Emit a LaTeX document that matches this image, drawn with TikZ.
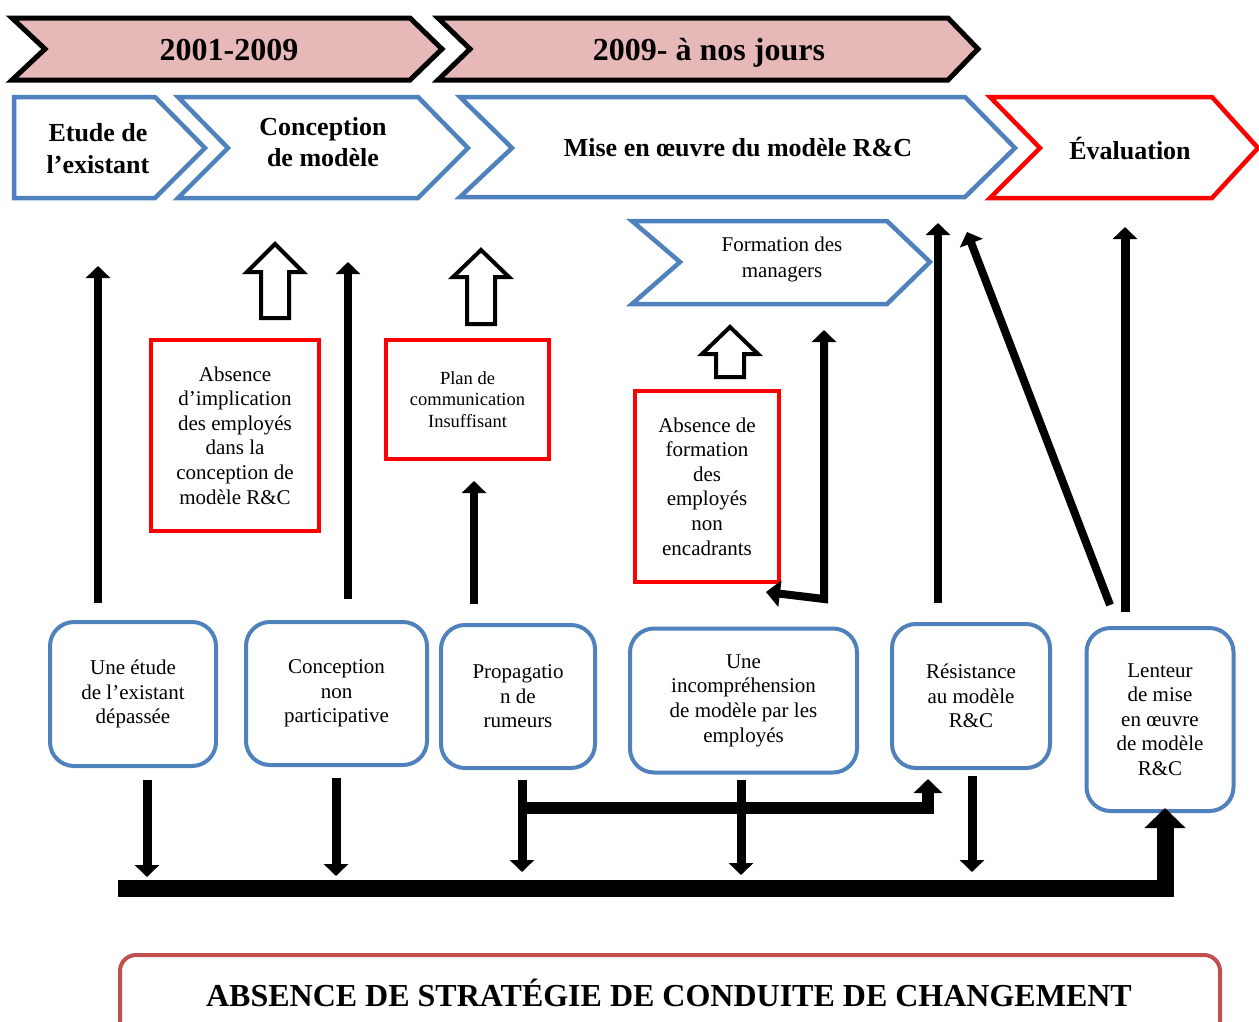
\documentclass[tikz,border=0pt]{standalone}
\usepackage{fontspec}
\setmainfont{Liberation Serif}
\usetikzlibrary{arrows.meta}

\definecolor{periodfill}{HTML}{E6B9B8}
\definecolor{phaseblue}{HTML}{4F81BD}
\definecolor{alertred}{HTML}{FF0000}
\definecolor{bannerred}{HTML}{C0504D}

\newcommand\headfont{\fontsize{32}{36}\selectfont\bfseries}
\newcommand\phasefont{\fontsize{26}{31}\selectfont\bfseries}
\newcommand\bodyfont{\fontsize{21}{24.6}\selectfont}
\newcommand\smallbody{\fontsize{18.5}{21.5}\selectfont}

% hollow block arrow pointing up: centre x, tip y, head base y, bottom y
\newcommand\blockup[4]{%
  \draw[hollow] (#1-14,#4) -- (#1-14,#3) -- (#1-28,#3) -- (#1,#2)
    -- (#1+28,#3) -- (#1+14,#3) -- (#1+14,#4) -- cycle;}

\tikzset{
  period/.style={draw=black, line width=5pt, fill=periodfill, line join=miter},
  phase/.style={draw=phaseblue, line width=4.5pt, fill=white, line join=miter},
  phasered/.style={draw=alertred, line width=4.5pt, fill=white, line join=miter},
  hollow/.style={draw=black, line width=4pt, fill=white, line join=miter},
  cause/.style={draw=phaseblue, line width=4pt, rounded corners=24pt, fill=white,
    align=center, inner sep=0pt, font=\bodyfont},
  issue/.style={draw=alertred, line width=4pt, fill=white, align=center,
    inner sep=0pt},
  label/.style={align=center, inner sep=0pt},
  uparrow/.style={line width=8pt, -{Triangle[width=24pt,length=12pt]}},
  downarrow/.style={line width=9pt, -{Triangle[width=24pt,length=12pt]}},
  widearrow/.style={line width=12pt, line join=miter,
    -{Triangle[width=28pt,length=14pt]}},
  basebar/.style={line width=17pt, line join=miter,
    -{Triangle[width=40pt,length=20pt]}},
}

\begin{document}
\begin{tikzpicture}[x=1pt, y=-1pt]
\useasboundingbox (0,0) rectangle (1259,1021);
\clip (0,0) rectangle (1259,1021);

% ---- periods
\draw[period] (12,18) -- (410,18) -- (442,49) -- (410,80) -- (12,80) -- (45,49) -- cycle;
\draw[period] (438,18) -- (948,18) -- (978,49) -- (948,80) -- (438,80) -- (470,49) -- cycle;
\node[label, font=\headfont, anchor=base] (p1) at (229,60) {2001-2009};
\node[label, font=\headfont, anchor=base] (p2) at (709,60) {2009- à nos jours};

% ---- phases
\draw[phase] (14,97) -- (155,97) -- (205,148) -- (155,198) -- (14,198) -- cycle;
\draw[phase] (178,97) -- (418,97) -- (468,148) -- (418,198) -- (178,198) -- (228,148) -- cycle;
\draw[phase] (460,97) -- (965,97) -- (1015,148) -- (965,197) -- (460,197) -- (512,148) -- cycle;
\draw[phasered] (990,97) -- (1212,97) -- (1258,148) -- (1212,198) -- (990,198) -- (1040,148) -- cycle;
\node[label, font=\phasefont] (ph1) at (98,149) {Etude de\\[1pt]l’existant};
\node[label, font=\phasefont] (ph2) at (323,142) {Conception\\de modèle};
\node[label, font=\phasefont] (ph3) at (738,148) {Mise en œuvre du modèle R\&C};
\node[label, font=\phasefont] (ph4) at (1130,149) {Évaluation};

% ---- manager training
\draw[phase] (632,221) -- (887,221) -- (930,262) -- (887,304) -- (632,304) -- (680,262) -- cycle;
\node[label, font=\fontsize{21}{26}\selectfont] (form) at (782,259) {Formation des\\managers};

% ---- hollow arrows
\blockup{275}{244}{272}{318}
\blockup{481}{250}{277}{324}
\blockup{730}{327}{354}{377}

% ---- red problem boxes
\node[issue, minimum width=168pt, minimum height=191pt, font=\bodyfont] (r1) at (235,435.5)
  {Absence\\d’implication\\des employés\\dans la\\conception de\\modèle R\&C};
\node[issue, minimum width=163pt, minimum height=119pt, font=\smallbody] (r2) at (467.5,399.5)
  {Plan de\\communication\\Insuffisant};
\node[issue, minimum width=144pt, minimum height=191pt, font=\bodyfont] (r3) at (707,486.5)
  {Absence de\\formation\\des\\employés\\non\\encadrants};

% ---- cause boxes
\node[cause, minimum width=166pt, minimum height=144pt] (c1) at (133,694)
  {Une étude\\de l’existant\\dépassée};
\node[cause, minimum width=181pt, minimum height=143pt] (c2) at (336.5,693.5)
  {Conception\\non\\participative};
\node[cause, minimum width=154pt, minimum height=143pt] (c3) at (518,696.5)
  {Propagatio\\n de\\rumeurs};
\node[cause, minimum width=227pt, minimum height=144pt] (c4) at (743.5,700.5)
  {Une\\incompréhension\\de modèle par les\\employés};
\node[cause, minimum width=158pt, minimum height=144pt] (c5) at (971,696)
  {Résistance\\au modèle\\R\&C};
\node[cause, minimum width=147pt, minimum height=183pt] (c6) at (1160,719.5)
  {Lenteur\\de mise\\en œuvre\\de modèle\\R\&C};

% ---- connector end points
\coordinate (u1a) at (98,603);   \coordinate (u1b) at (98,266);
\coordinate (u2a) at (348,599);  \coordinate (u2b) at (348,262);
\coordinate (u3a) at (474,604);  \coordinate (u3b) at (474,481);
\coordinate (elL) at (766,592);  \coordinate (elC) at (824,599);  \coordinate (elT) at (824,330);
\coordinate (u5a) at (938,603);  \coordinate (u5b) at (938,223);
\coordinate (dga) at (1110,605); \coordinate (dgb) at (967,232);
\coordinate (u7a) at (1125,612); \coordinate (u7b) at (1125,227);

\coordinate (d1a) at (147,780);  \coordinate (d1b) at (147,877);
\coordinate (d2a) at (336,778);  \coordinate (d2b) at (336,876);
\coordinate (d3a) at (522,780);  \coordinate (d3b) at (522,872);
\coordinate (d4a) at (741,780);  \coordinate (d4b) at (741,875);
\coordinate (d5a) at (972,776);  \coordinate (d5b) at (972,872);

\coordinate (wA) at (522,808);   \coordinate (wB) at (928,808);  \coordinate (wC) at (928,779);
\coordinate (bA) at (118,888);   \coordinate (bB) at (1165,888); \coordinate (bC) at (1165,808);

% ---- upward connectors
\draw[uparrow] (u1a) -- (u1b);
\draw[uparrow] (u2a) -- (u2b);
\draw[uparrow] (u3a) -- (u3b);
\draw[line width=8pt, line join=miter,
  {Triangle[width=26pt,length=14pt]}-{Triangle[width=24pt,length=12pt]}]
  (elL) -- (elC) -- (elT);
\draw[uparrow] (u5a) -- (u5b);
\draw[uparrow] (dga) -- (dgb);
\draw[uparrow, line width=9pt] (u7a) -- (u7b);

% ---- downward connectors
\draw[downarrow] (d1a) -- (d1b);
\draw[downarrow] (d2a) -- (d2b);
\draw[downarrow] (d3a) -- (d3b);
\draw[downarrow] (d4a) -- (d4b);
\draw[downarrow] (d5a) -- (d5b);

% ---- link to resistance and base bar
\draw[widearrow] (wA) -- (wB) -- (wC);
\draw[basebar] (bA) -- (bB) -- (bC);

% ---- banner
\draw[draw=bannerred, line width=4pt, rounded corners=16pt] (120,955) rectangle (1220,1060);
\node[label, font=\headfont] (banner) at (669,993)
  {ABSENCE DE STRATÉGIE DE CONDUITE DE CHANGEMENT};
\end{tikzpicture}
\end{document}
